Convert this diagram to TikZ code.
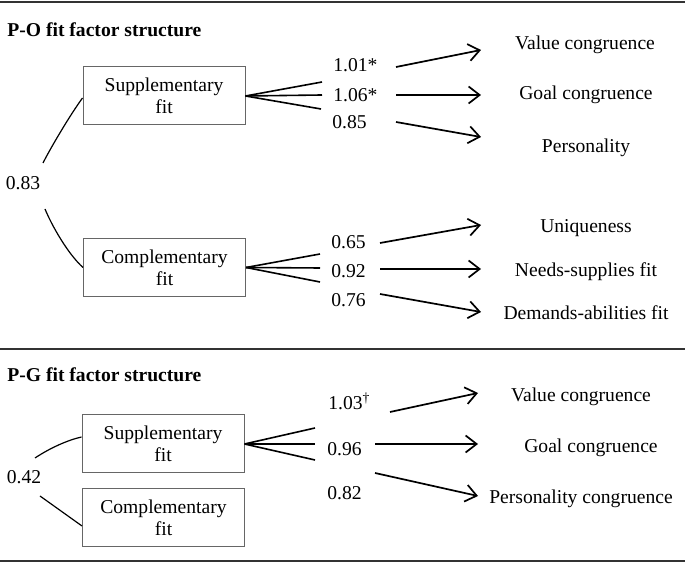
\documentclass[tikz,border=0pt]{standalone}
\usepackage{fontspec}
\setmainfont{Liberation Serif}
\usetikzlibrary{arrows.meta}
\begin{document}
\begin{tikzpicture}[x=0.5pt,y=-0.5pt,
  every node/.style={font=\fontsize{9.8}{11}\selectfont},
  fbox/.style={draw=black!60, line width=0.5pt, minimum width=81pt, minimum height=29pt, align=center, inner sep=0pt},
  lbl/.style={text height=0.66em, text depth=0pt, inner sep=0pt},
  num/.style={lbl, anchor=west},
  ttl/.style={lbl, font=\fontsize{9.8}{11}\selectfont\bfseries, anchor=west},
  fan/.style={line width=0.8pt},
  arr/.style={line width=0.85pt, -{Straight Barb[length=5.5pt,width=8.5pt]}},
  corr/.style={line width=0.6pt},
  rule/.style={line width=1pt, draw=black!80}]
\useasboundingbox (0,0) rectangle (685,565);

% rules
\coordinate (r1l) at (0,2);   \coordinate (r1r) at (685,2);
\coordinate (r2l) at (0,349); \coordinate (r2r) at (685,349);
\coordinate (r3l) at (0,561); \coordinate (r3r) at (685,561);
\draw[rule] (r1l) -- (r1r);
\draw[rule] (r2l) -- (r2r);
\draw[rule] (r3l) -- (r3r);

% ---------- P-O ----------
\node[ttl] (t1) at (7,30) {P-O fit factor structure};
\node[fbox] (s1) at (164,96) {Supplementary\\fit};
\node[fbox] (c1) at (164.5,267.5) {Complementary\\fit};
\node[lbl] (k1) at (23,183) {0.83};
\coordinate (k1a) at (43,163);
\coordinate (k1b) at (45,209);
\draw[corr] ([yshift=-1pt]s1.west) .. controls (70,115) and (50,149) .. (k1a);
\draw[corr] (k1b) .. controls (52,226) and (68,254) .. (c1.west);

% supplementary fan
\coordinate (f11) at (322,82);
\coordinate (f12) at (322,95);
\coordinate (f13) at (321,109);
\draw[fan] (s1.east) -- (f11);
\draw[fan] (s1.east) -- (f12);
\draw[fan] (s1.east) -- (f13);
\node[num] (n11) at (333,65) {1.01*};
\node[num] (n12) at (333,95) {1.06*};
\node[num] (n13) at (332,122) {0.85};
\node[lbl] (v1) at (585,43) {Value congruence};
\node[lbl] (g1) at (586,93) {Goal congruence};
\node[lbl] (p1) at (586,146) {Personality};
\coordinate (a11s) at (396,67);  \coordinate (a11e) at (481,50);
\coordinate (a12s) at (396,95);  \coordinate (a12e) at (481,95);
\coordinate (a13s) at (396,122); \coordinate (a13e) at (481,137);
\draw[arr] (a11s) -- (a11e);
\draw[arr] (a12s) -- (a12e);
\draw[arr] (a13s) -- (a13e);

% complementary fan
\coordinate (f21) at (320,254);
\coordinate (f22) at (320,268);
\coordinate (f23) at (320,282);
\draw[fan] (c1.east) -- (f21);
\draw[fan] (c1.east) -- (f22);
\draw[fan] (c1.east) -- (f23);
\node[num] (n21) at (331,242) {0.65};
\node[num] (n22) at (331,271) {0.92};
\node[num] (n23) at (331,300) {0.76};
\node[lbl] (u1) at (586,226) {Uniqueness};
\node[lbl] (ns1) at (586,270) {Needs-supplies fit};
\node[lbl] (da1) at (586,313) {Demands-abilities fit};
\coordinate (a21s) at (380,243); \coordinate (a21e) at (481,225);
\coordinate (a22s) at (380,269); \coordinate (a22e) at (481,269);
\coordinate (a23s) at (380,294); \coordinate (a23e) at (481,312);
\draw[arr] (a21s) -- (a21e);
\draw[arr] (a22s) -- (a22e);
\draw[arr] (a23s) -- (a23e);

% ---------- P-G ----------
\node[ttl] (t2) at (7,375) {P-G fit factor structure};
\node[fbox] (s2) at (163,444) {Supplementary\\fit};
\node[fbox] (c2) at (163.5,518) {Complementary\\fit};
\node[lbl] (k2) at (24,477) {0.42};
\coordinate (k2a) at (35,458);
\coordinate (k2b) at (40,496);
\draw[corr] (k2a) .. controls (50,448) and (68,440) .. ([yshift=3.5pt]s2.west);
\draw[corr] (k2b) -- ([yshift=-4pt]c2.west);

\coordinate (f31) at (315,428);
\coordinate (f32) at (315,444);
\coordinate (f33) at (315,460);
\draw[fan] (s2.east) -- (f31);
\draw[fan] (s2.east) -- (f32);
\draw[fan] (s2.east) -- (f33);
\node[num] (n31) at (328,403) {1.03\textsuperscript{†}};
\node[num] (n32) at (327,449) {0.96};
\node[num] (n33) at (327,493) {0.82};
\node[lbl] (v2) at (581,395) {Value congruence};
\node[lbl] (g2) at (591,446) {Goal congruence};
\node[lbl] (p2) at (581,497) {Personality congruence};
\coordinate (a31s) at (390,412); \coordinate (a31e) at (478,393);
\coordinate (a32s) at (375,444); \coordinate (a32e) at (478,444);
\coordinate (a33s) at (375,473); \coordinate (a33e) at (478,496);
\draw[arr] (a31s) -- (a31e);
\draw[arr] (a32s) -- (a32e);
\draw[arr] (a33s) -- (a33e);
\end{tikzpicture}
\end{document}
